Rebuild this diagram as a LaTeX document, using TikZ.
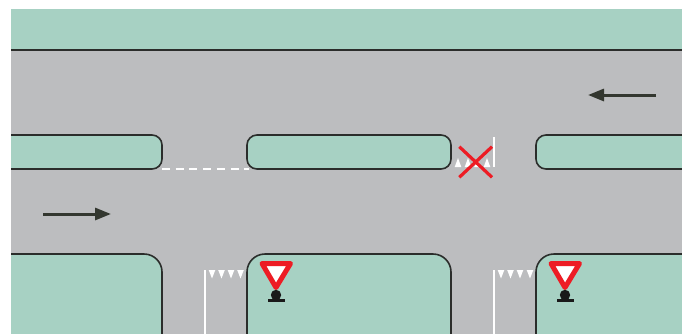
\documentclass[tikz,border=0pt]{standalone}
\usepackage{xcolor}
\usetikzlibrary{arrows.meta}

\definecolor{verge}{HTML}{A7D1C3}
\definecolor{road}{HTML}{BCBDBF}
\definecolor{kerb}{HTML}{2B2D2B}
\definecolor{flow}{HTML}{33372F}
\definecolor{signred}{HTML}{ED1C24}

\tikzset{
  island/.style={fill=verge, draw=kerb, line width=1.6pt, rounded corners=#1},
  island/.default=10pt,
  tooth/.style={fill=white, draw=none},
  stopline/.style={draw=white, line width=2pt},
  flowarrow/.style={draw=flow, line width=3pt, -{Triangle[length=16pt,width=12pt]}},
  crossbar/.style={draw=signred, line width=3.2pt},
}

\begin{document}
\begin{tikzpicture}[x=1pt, y=-1pt]
      \useasboundingbox (0,0) rectangle (682,333);
      \clip (11,9) rectangle (690,345);
      \fill[road] (11,9) rectangle (690,345);

      % top verge
      \fill[verge] (11,9) rectangle (690,49);
      \draw[draw=kerb, line width=2pt] (11,49.5) -- (690,49.5);

      % median
      \filldraw[island] (-20,135) rectangle (162,169);
      \filldraw[island] (247,135) rectangle (451,169);
      \filldraw[island] (536,135) rectangle (710,169);

      % lower corners
      \filldraw[island=18pt] (-20,254) rectangle (162,370);
      \filldraw[island=18pt] (247,254) rectangle (451,370);
      \filldraw[island=18pt] (536,254) rectangle (710,370);

      % give way lines
      \draw[stopline, dash pattern=on 8pt off 5.7pt] (162,169) -- (249,169);
      \draw[stopline] (493.5,137) -- (493.5,167);
      \draw[stopline] (204.7,270) -- (204.7,345);
      \draw[stopline] (494,270) -- (494,345);

      % teeth
      \foreach \tx in {458,468,477.5,487}
        \fill[tooth] (\tx-3.3,167) -- (\tx+3.3,167) -- (\tx,158) -- cycle;
      \foreach \tx in {212,221.5,231,240.5,501,510.5,520,530}
        \fill[tooth] (\tx-3.3,270) -- (\tx+3.3,270) -- (\tx,278.5) -- cycle;

      % crossed out
      \draw[crossbar] (459.3,146.7) -- (492,177.3);
      \draw[crossbar] (492,146.7) -- (459.3,177.3);

      % signs
      \foreach \sx in {276,565} {
        \filldraw[fill=white, draw=signred, line width=5pt, line join=round]
          (\sx-14,263.5) -- (\sx+14.5,263.5) -- (\sx,287.5) -- cycle;
        \fill[black!90] (\sx,295) circle (5.2);
        \fill[black!90] (\sx-8.5,298.5) rectangle (\sx+8.5,302);
      }

      % traffic direction
      \coordinate (e1) at (43,214);
      \coordinate (e2) at (111,214);
      \coordinate (w1) at (656,95);
      \coordinate (w2) at (588,95);
      \draw[flowarrow] (e1) to (e2);
      \draw[flowarrow] (w1) to (w2);
\end{tikzpicture}
\end{document}
